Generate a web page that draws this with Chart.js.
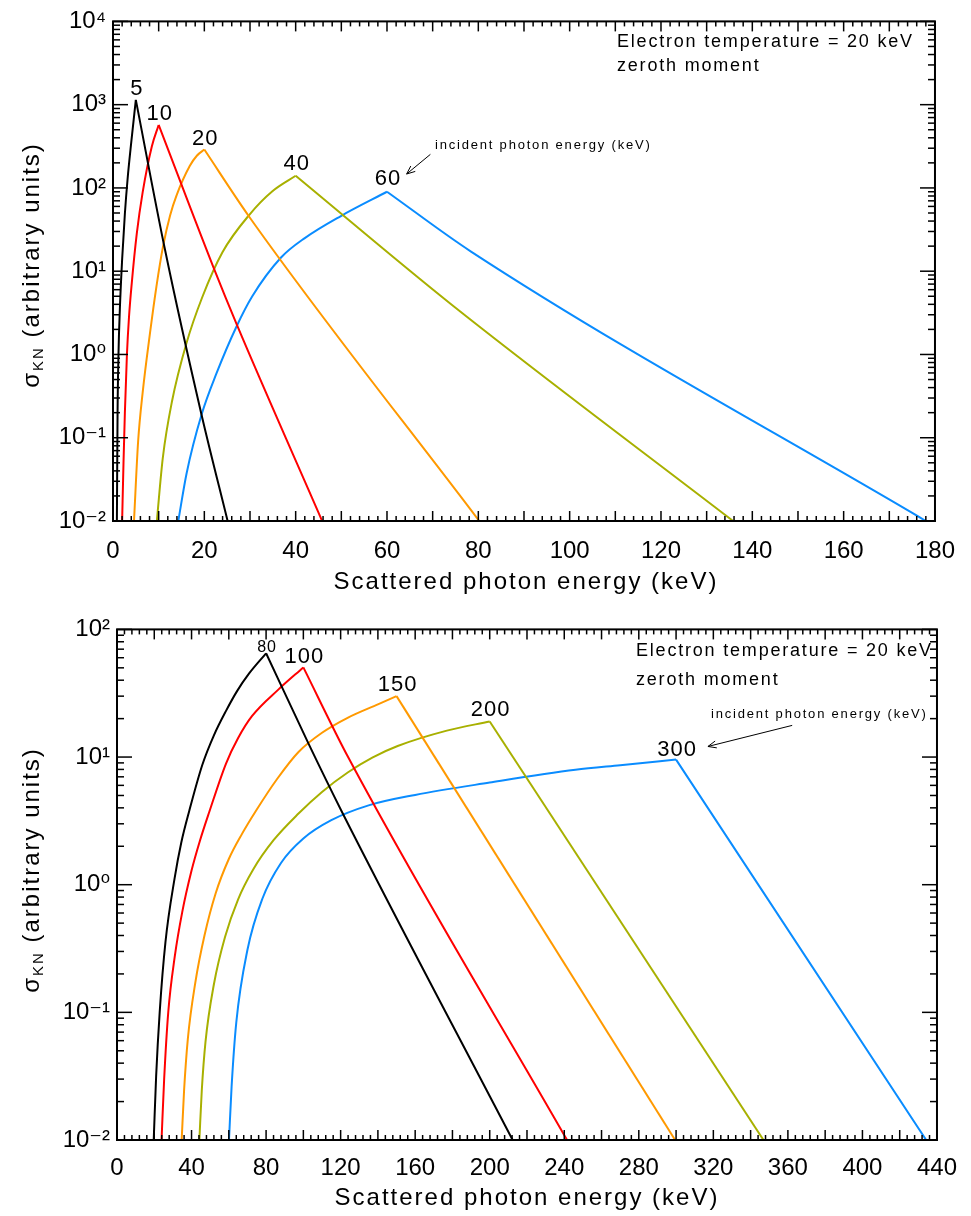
<!DOCTYPE html>
<html lang="en">
<head>
<meta charset="UTF-8">
<title>Scattered photon spectra, electron temperature 20 keV</title>
<script src="https://cdn.jsdelivr.net/npm/chart.js"></script>
<style>
  body { margin: 0; background: #fff; }
  .panel { width: 971px; height: 608px; }
</style>
</head>
<body>
<div class="panel"><canvas id="topPlot" width="971" height="608"></canvas></div>
<div class="panel"><canvas id="bottomPlot" width="971" height="608"></canvas></div>
<script>
// ---- top panel: incident photon energies 5 - 60 keV ----
const topLabels = ['5', '10', '20', '40', '60'];
const top5x  = [0.85, 1.0, 1.2, 1.5, 2.0, 2.6, 3.2, 4.0, 5.0, 11.3, 19.4, 25.1];
const top5y  = [0.01, 0.2, 1, 3.5, 13.8, 49, 129, 355, 1140, 19.1, 0.188, 0.01];
const top10x = [2.0, 2.3, 2.6, 3.05, 3.5, 4.1, 5.2, 6.5, 8.5, 10, 22, 27, 45.8];
const top10y = [0.01, 0.05, 0.2, 1, 2.8, 7.1, 28, 89, 315, 571, 11.1, 2.36, 0.01];
const top20x = [4.6, 5.5, 6.5, 8.1, 9.5, 11, 12.5, 13.9, 16.8, 18.4, 20, 29.9, 80.2];
const top20y = [0.01, 0.09, 0.35, 1.8, 6.5, 20.4, 46.8, 81, 183, 245, 289, 44.5, 0.01];
const top40x = [9.6, 10.9, 12.9, 16.1, 19.5, 24, 29.9, 34.9, 40, 73.9, 135.8];
const top40y = [0.01, 0.057, 0.27, 1.37, 4.8, 17, 47.9, 91.2, 140, 4.07, 0.01];
const top60x = [14.3, 16.1, 19.4, 22.7, 27, 30.5, 36.8, 42, 49.9, 60, 78.4, 178];
const top60y = [0.01, 0.037, 0.19, 0.60, 2.14, 5, 14.6, 25, 46, 90, 17.2, 0.01];

// ---- bottom panel: incident photon energies 80 - 300 keV ----
const botLabels = ['80', '100', '150', '200', '300'];
const bot80x  = [19.7, 21, 22.9, 26, 30.9, 34.5, 38.8, 45.8, 52, 58.5, 64.5, 70.8, 80, 102.7, 120.4, 212.3];
const bot80y  = [0.01, 0.0316, 0.1, 0.355, 1.12, 2.14, 3.8, 8.7, 14.8, 23, 33, 45, 65, 12.8, 3.8, 0.01];
const bot100x = [23.9, 25.3, 27.5, 31, 35, 40, 44.5, 49.5, 58.5, 65, 72.4, 86.7, 100, 124, 241.5];
const bot100y = [0.01, 0.0299, 0.1, 0.274, 0.61, 1.29, 2.21, 3.71, 8.9, 14.1, 20.9, 33.9, 50.4, 10, 0.01];
const bot150x = [34.7, 36, 38, 42, 47, 53, 60, 67, 74.5, 86, 97.4, 110, 124, 140, 150, 299.5];
const bot150y = [0.01, 0.0245, 0.0617, 0.17, 0.403, 0.861, 1.59, 2.49, 3.78, 6.76, 10.96, 15.5, 20.4, 25.9, 30, 0.01];
const bot200x = [44.2, 45.5, 47.5, 52, 58, 65, 73, 84, 97.4, 110, 124, 137, 150.6, 177, 200, 346.9];
const bot200y = [0.01, 0.0245, 0.0589, 0.166, 0.391, 0.769, 1.31, 2.23, 3.61, 5.33, 7.6, 9.9, 12.2, 16.1, 19, 0.01];
const bot300x = [60.1, 61.5, 64, 70, 78, 88, 100, 115, 135, 160, 200, 246, 270, 300, 434.2];
const bot300y = [0.01, 0.0263, 0.0832, 0.309, 0.776, 1.48, 2.3, 3.2, 4.18, 5.05, 6.31, 7.94, 8.63, 9.55, 0.01];

const lineColors = ['#000000', '#ff0000', '#ff9900', '#a8b000', '#0a8cff'];
const FONT = '"Liberation Sans", "DejaVu Sans", sans-serif';

const SUP = {'0':'⁰','1':'¹','2':'²','3':'³','4':'⁴','5':'⁵','6':'⁶','7':'⁷','8':'⁸','9':'⁹','-':'⁻'};
function powerLabel(v) {
    const e = Math.log10(v);
    if (Math.abs(e - Math.round(e)) > 1e-6) return '';
    return '10' + String(Math.round(e)).split('').map(c => SUP[c]).join('');
}

function series(xs, ys) {
    return xs.map((x, i) => ({ x: x, y: ys[i] }));
}

// each curve is drawn as a smooth rising branch and a falling branch that meet at the peak
function lineSets(labels, xsList, ysList) {
    const sets = [];
    labels.forEach((lab, i) => {
        const pts = series(xsList[i], ysList[i]);
        let k = 0;
        pts.forEach((p, j) => { if (p.y > pts[k].y) k = j; });
        const common = {
            borderColor: lineColors[i],
            borderWidth: 2,
            pointRadius: 0,
            showLine: true,
            fill: false,
            cubicInterpolationMode: 'monotone'
        };
        sets.push(Object.assign({ label: lab, data: pts.slice(0, k + 1), peakLabel: true }, common));
        sets.push(Object.assign({ label: lab, data: pts.slice(k), peakLabel: false }, common));
    });
    return sets;
}

function drawLine(ctx, x1, y1, x2, y2) {
    ctx.beginPath();
    ctx.moveTo(x1, y1);
    ctx.lineTo(x2, y2);
    ctx.stroke();
}

function drawYTitle(ctx, cx, cy) {
    ctx.save();
    ctx.translate(cx, cy);
    ctx.rotate(-Math.PI / 2);
    ctx.fillStyle = '#000';
    ctx.textBaseline = 'alphabetic';
    ctx.letterSpacing = '2px';
    const big = '24px ' + FONT, small = '15px ' + FONT;
    ctx.font = big;
    const wS = ctx.measureText('σ').width;
    const rest = ' (arbitrary units)';
    const wR = ctx.measureText(rest).width;
    ctx.font = small;
    const wK = ctx.measureText('KN').width;
    let x0 = -(wS + wK + wR) / 2;
    ctx.font = big;
    ctx.fillText('σ', x0, 9);
    x0 += wS;
    ctx.font = small;
    ctx.fillText('KN', x0, 13);
    x0 += wK;
    ctx.font = big;
    ctx.fillText(rest, x0, 9);
    ctx.restore();
}

// frame, inward ticks on all four sides, titles and notes
const decor = {
    id: 'decor',
    afterDatasetsDraw(chart, args, o) {
        const { ctx, chartArea: a, scales: { x, y } } = chart;
        ctx.save();
        ctx.strokeStyle = '#000';
        ctx.lineWidth = 2;
        ctx.strokeRect(a.left, a.top, a.right - a.left, a.bottom - a.top);

        ctx.lineWidth = 1.5;
        for (let v = x.min; v <= x.max + 1e-9; v += o.xMinor) {
            const px = x.getPixelForValue(v);
            const r = v / o.xMajor;
            const len = Math.abs(r - Math.round(r)) < 1e-6 ? 10 : 5;
            drawLine(ctx, px, a.bottom, px, a.bottom - len);
            drawLine(ctx, px, a.top, px, a.top + len);
        }
        const e0 = Math.round(Math.log10(y.min)), e1 = Math.round(Math.log10(y.max));
        for (let e = e0; e <= e1; e++) {
            for (let m = 1; m <= 9; m++) {
                const v = m * Math.pow(10, e);
                if (v > y.max * 1.0001) break;
                const py = y.getPixelForValue(v);
                const len = m === 1 ? 15 : 7;
                drawLine(ctx, a.left, py, a.left + len, py);
                drawLine(ctx, a.right, py, a.right - len, py);
            }
        }

        ctx.fillStyle = '#000';
        ctx.letterSpacing = '2px';
        // x title
        ctx.font = '24px ' + FONT;
        ctx.textAlign = 'center';
        ctx.textBaseline = 'middle';
        ctx.fillText('Scattered photon energy (keV)', o.xTitle[0], o.xTitle[1]);
        ctx.textAlign = 'left';
        ctx.letterSpacing = '0px';
        drawYTitle(ctx, o.yTitle[0], o.yTitle[1]);

        // notes in the upper right
        ctx.letterSpacing = '1.8px';
        o.notes.forEach(n => {
            ctx.font = n.size + 'px ' + FONT;
            ctx.textAlign = 'left';
            ctx.textBaseline = 'middle';
            ctx.fillText(n.text, n.at[0], n.at[1]);
        });

        // incident energy labels over each peak
        let c = 0;
        chart.data.datasets.forEach((ds, i) => {
            if (!ds.peakLabel) return;
            const meta = chart.getDatasetMeta(i);
            const pt = meta.data[meta.data.length - 1];
            ctx.font = o.peakSizes[c] + 'px ' + FONT;
            ctx.letterSpacing = '1px';
            ctx.textAlign = 'center';
            ctx.textBaseline = 'alphabetic';
            ctx.fillText(ds.label, pt.x + 1, pt.y - o.peakGap[c]);
            c++;
        });

        // arrow from the note to a peak label
        const ax1 = x.getPixelForValue(o.arrow[0]), ay1 = y.getPixelForValue(o.arrow[1]);
        const ax2 = x.getPixelForValue(o.arrow[2]), ay2 = y.getPixelForValue(o.arrow[3]);
        ctx.lineWidth = 1;
        drawLine(ctx, ax1, ay1, ax2, ay2);
        const ang = Math.atan2(ay1 - ay2, ax1 - ax2);
        [0.4, -0.4].forEach(d => {
            drawLine(ctx, ax2, ay2, ax2 + 9 * Math.cos(ang + d), ay2 + 9 * Math.sin(ang + d));
        });
        ctx.restore();
    }
};

function makeChart(id, cfg) {
    return new Chart(document.getElementById(id).getContext('2d'), {
        type: 'scatter',
        data: { datasets: cfg.datasets },
        plugins: [decor],
        options: {
            responsive: false,
            animation: false,
            devicePixelRatio: 1,
            events: [],
            layout: { padding: cfg.padding },
            scales: {
                x: {
                    type: 'linear',
                    min: 0,
                    max: cfg.xMax,
                    grid: { display: false, drawTicks: false },
                    border: { display: false },
                    afterFit: s => { s.height = cfg.xAxisHeight; },
                    ticks: {
                        stepSize: cfg.xStep,
                        padding: cfg.xPad,
                        color: '#000',
                        maxRotation: 0,
                        autoSkip: false,
                        font: { family: FONT, size: 24 }
                    }
                },
                y: {
                    type: 'logarithmic',
                    min: cfg.yMin,
                    max: cfg.yMax,
                    grid: { display: false, drawTicks: false },
                    border: { display: false },
                    afterFit: s => { s.width = cfg.yAxisWidth; },
                    ticks: {
                        padding: 7,
                        color: '#000',
                        autoSkip: false,
                        font: { family: FONT, size: 24 },
                        callback: v => powerLabel(v)
                    }
                }
            },
            plugins: {
                legend: { display: false },
                tooltip: { enabled: false },
                decor: cfg.decor
            }
        }
    });
}

makeChart('topPlot', {
    datasets: lineSets(topLabels, [top5x, top10x, top20x, top40x, top60x], [top5y, top10y, top20y, top40y, top60y]),
    padding: { top: 13, right: 32, left: 0, bottom: 0 },
    xMax: 180, xStep: 20, xPad: 16, xAxisHeight: 87,
    yMin: 0.01, yMax: 10000, yAxisWidth: 113,
    decor: {
        xMinor: 2, xMajor: 10,
        xTitle: [526, 582],
        yTitle: [30, 265],
        notes: [
            { text: 'Electron temperature = 20 keV', at: [617, 42], size: 18 },
            { text: 'zeroth moment', at: [617, 66], size: 18 },
            { text: 'incident photon energy (keV)', at: [435, 145], size: 13 }
        ],
        peakSizes: [22, 22, 22, 22, 22],
        peakGap: [5, 5, 5, 6, 7],
        arrow: [69.5, 253, 64.3, 147]
    }
});

makeChart('bottomPlot', {
    datasets: lineSets(botLabels, [bot80x, bot100x, bot150x, bot200x, bot300x], [bot80y, bot100y, bot150y, bot200y, bot300y]),
    padding: { top: 21, right: 27, left: 0, bottom: 0 },
    xMax: 440, xStep: 40, xPad: 14, xAxisHeight: 76,
    yMin: 0.01, yMax: 100, yAxisWidth: 117,
    decor: {
        xMinor: 4, xMajor: 20,
        xTitle: [527, 590],
        yTitle: [30, 262],
        notes: [
            { text: 'Electron temperature = 20 keV', at: [636, 43], size: 18 },
            { text: 'zeroth moment', at: [636, 72], size: 18 },
            { text: 'incident photon energy (keV)', at: [711, 106], size: 13 }
        ],
        peakSizes: [16, 22, 22, 22, 22],
        peakGap: [1, 4, 5, 5, 4],
        arrow: [362.3, 17.7, 317.1, 12.1]
    }
});
</script>
</body>
</html>
